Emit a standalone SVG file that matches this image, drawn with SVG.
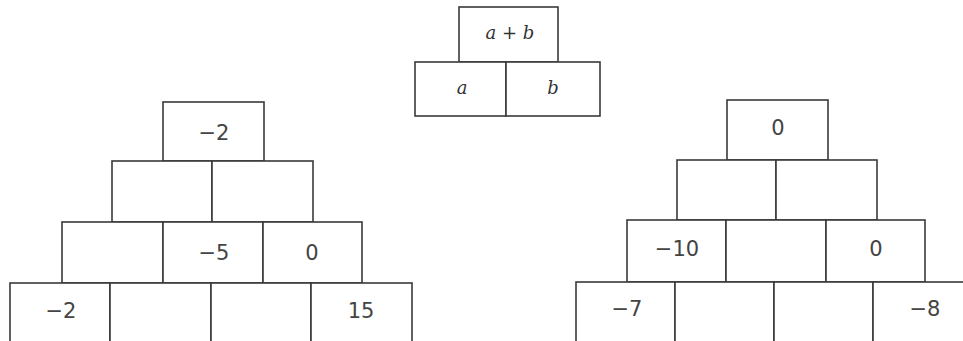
<svg xmlns="http://www.w3.org/2000/svg" width="963" height="341" viewBox="0 0 963 341">
<style>
rect{fill:#fff;stroke:#3a3a3a;stroke-width:1.6}
.n{font-family:"DejaVu Sans",Verdana,sans-serif;font-size:21px;fill:#444;text-anchor:middle}
.v{font-family:"DejaVu Serif","Liberation Serif",serif;font-style:italic;font-size:18px;fill:#333;text-anchor:middle}
</style>
<rect x="0" y="0" width="963" height="341" style="stroke:none"/>
<g id="key">
<g id="key-top"><rect x="459" y="7" width="99" height="55"/><text class="v" x="510" y="39" xml:space="preserve">a + b</text></g>
<g id="key-a"><rect x="415" y="62" width="91" height="54"/><text class="v" x="462" y="94">a</text></g>
<g id="key-b"><rect x="506" y="62" width="94" height="54"/><text class="v" x="553" y="94">b</text></g>
</g>
<g id="left">
<g id="L1"><rect x="163" y="102" width="101" height="59"/><text class="n" x="214" y="140">−2</text></g>
<g id="L2a"><rect x="112" y="161" width="100" height="61"/></g>
<g id="L2b"><rect x="212" y="161" width="101" height="61"/></g>
<g id="L3a"><rect x="62" y="222" width="101" height="61"/></g>
<g id="L3b"><rect x="163" y="222" width="100" height="61"/><text class="n" x="214" y="260">−5</text></g>
<g id="L3c"><rect x="263" y="222" width="99" height="61"/><text class="n" x="312" y="260">0</text></g>
<g id="L4a"><rect x="10" y="283" width="100" height="70"/><text class="n" x="61" y="318">−2</text></g>
<g id="L4b"><rect x="110" y="283" width="101" height="70"/></g>
<g id="L4c"><rect x="211" y="283" width="100" height="70"/></g>
<g id="L4d"><rect x="311" y="283" width="101" height="70"/><text class="n" x="361" y="318">15</text></g>
</g>
<g id="right">
<g id="R1"><rect x="727" y="100" width="101" height="60"/><text class="n" x="778" y="135">0</text></g>
<g id="R2a"><rect x="677" y="160" width="99" height="60"/></g>
<g id="R2b"><rect x="776" y="160" width="101" height="60"/></g>
<g id="R3a"><rect x="627" y="220" width="99" height="62"/><text class="n" x="677" y="256">−10</text></g>
<g id="R3b"><rect x="726" y="220" width="100" height="62"/></g>
<g id="R3c"><rect x="826" y="220" width="99" height="62"/><text class="n" x="876" y="256">0</text></g>
<g id="R4a"><rect x="576" y="282" width="99" height="70"/><text class="n" x="627" y="316">−7</text></g>
<g id="R4b"><rect x="675" y="282" width="99" height="70"/></g>
<g id="R4c"><rect x="774" y="282" width="99" height="70"/></g>
<g id="R4d"><rect x="873" y="282" width="100" height="70"/><text class="n" x="925" y="316">−8</text></g>
</g>
</svg>
